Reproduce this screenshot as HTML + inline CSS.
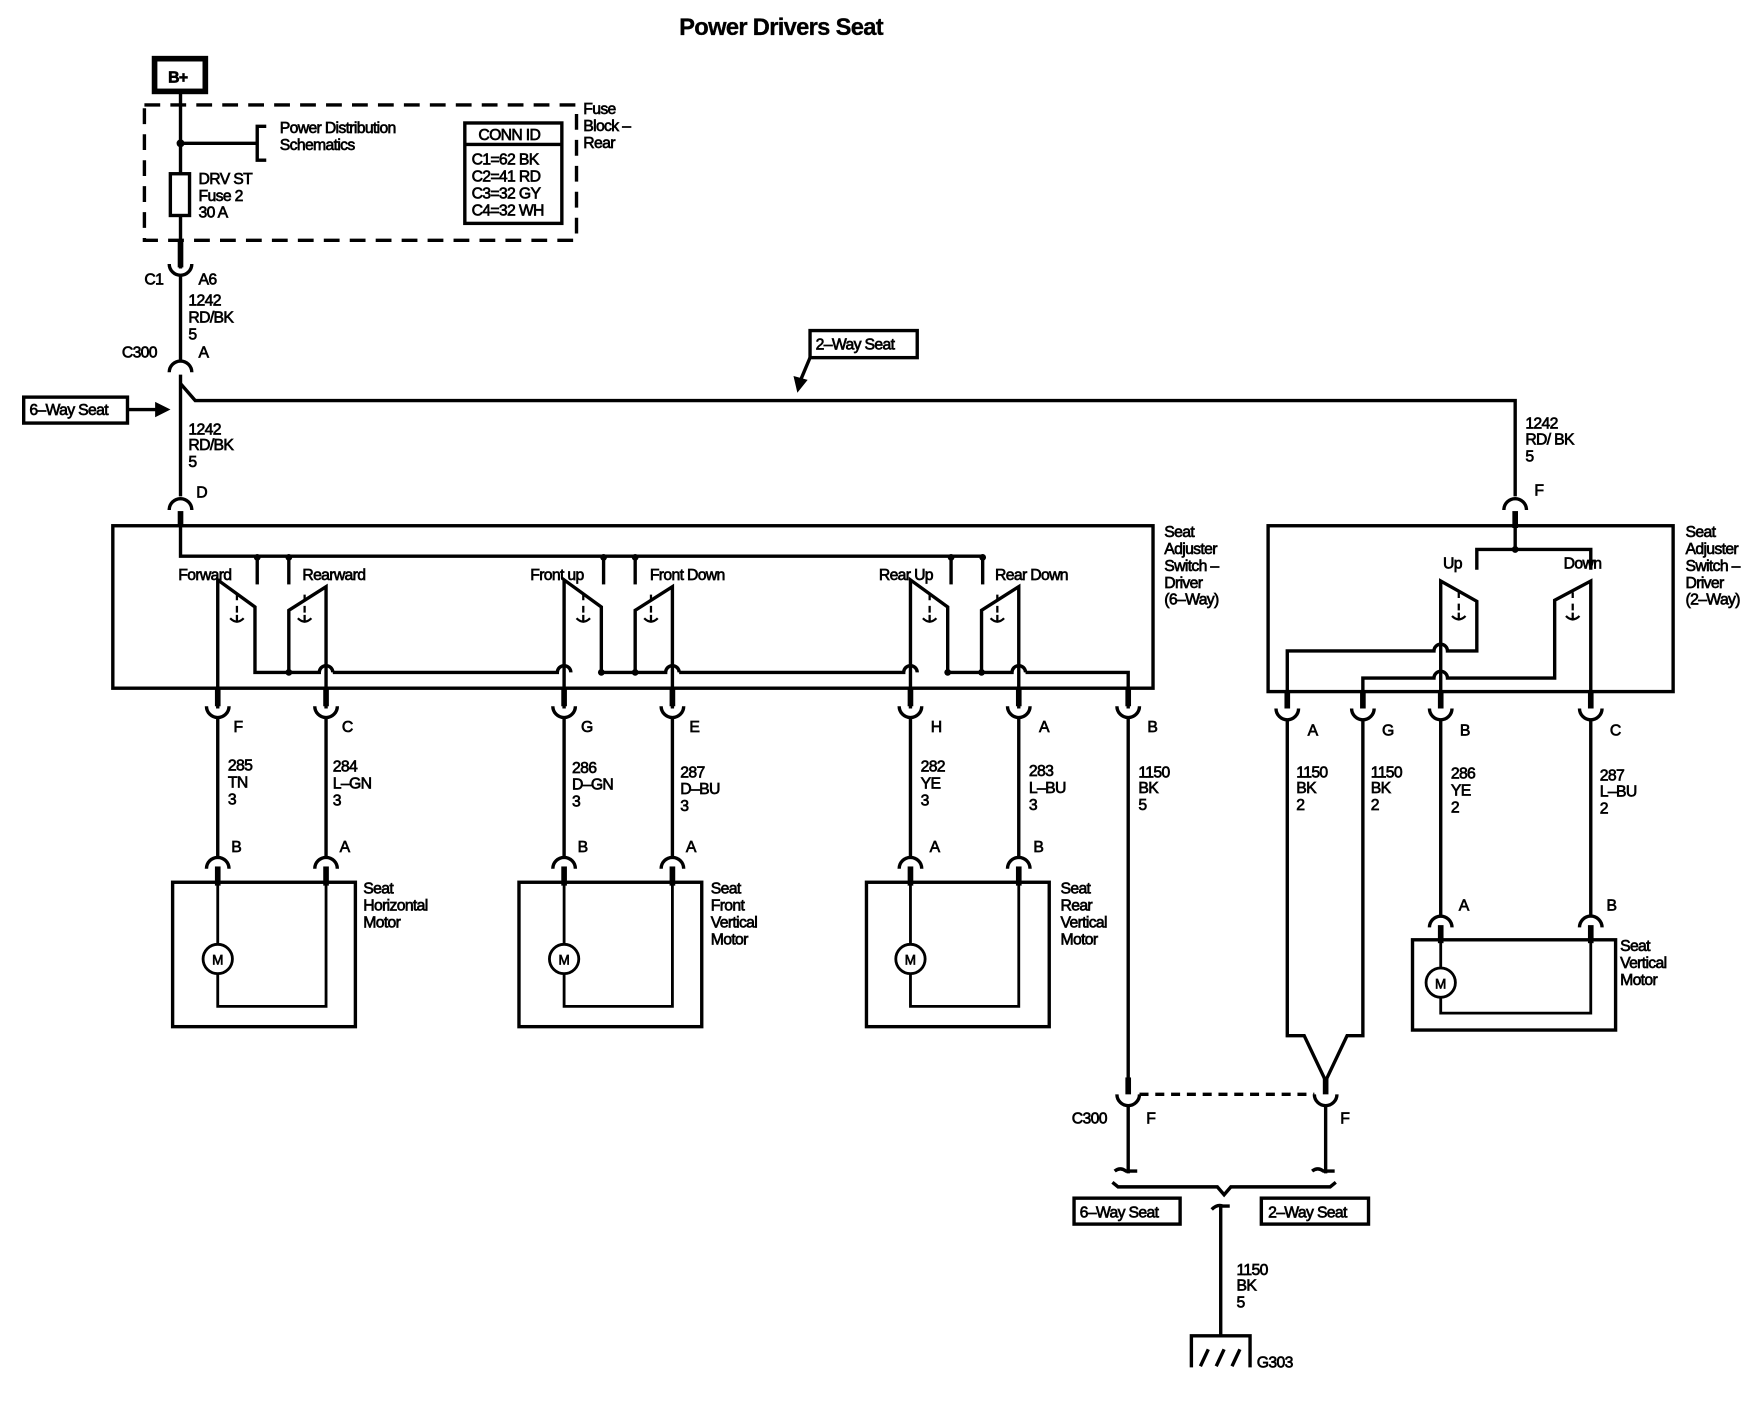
<!DOCTYPE html>
<html><head><meta charset="utf-8"><style>
html,body{margin:0;padding:0;background:#fff;}
svg{display:block}
text{font-family:"Liberation Sans",Arial,sans-serif;font-size:14px;fill:#000;letter-spacing:-0.6px;stroke:#000;stroke-width:0.6}
</style></head><body>
<svg width="1760" height="1408" viewBox="0 0 1560 1248" xmlns="http://www.w3.org/2000/svg">
<g fill="none" stroke="#000" stroke-width="3">
<rect x="137" y="52" width="45" height="29" stroke-width="5"/>
<rect x="128" y="93" width="383" height="120" stroke-dasharray="14,9"/>
<line x1="160" y1="81" x2="160" y2="238"/>
<line x1="160" y1="127" x2="228" y2="127"/>
<path d="M236 112 H228 V142 H236"/>
<circle cx="160" cy="127" r="2" fill="#000"/>
<rect x="151" y="154" width="17" height="37" fill="#fff"/>
<line x1="160" y1="213" x2="160" y2="237" stroke-width="5"/>
<rect x="412" y="109" width="86" height="89"/>
<line x1="412" y1="128" x2="498" y2="128"/>
<path d="M150 234 A10 10 0 0 0 170 234"/>
<line x1="160" y1="244" x2="160" y2="320"/>
<path d="M150 330 A10 10 0 0 1 170 330"/>
<line x1="160" y1="332" x2="160" y2="440" />
<path d="M160 340 L173 355 H1343 V440"/>
<rect x="21" y="352" width="92" height="23"/>
<line x1="113" y1="363" x2="140" y2="363"/>
<path d="M138 357 L150 363 L138 369 Z" fill="#000" stroke-width="1"/>
<rect x="718" y="293" width="95" height="24"/>
<line x1="718" y1="317" x2="710" y2="336"/>
<path d="M704 334 L707 347 L715 337 Z" fill="#000" stroke-width="1"/>
<path d="M150 452 A10 10 0 0 1 170 452"/>
<line x1="160" y1="453" x2="160" y2="466" stroke-width="5"/>
<rect x="100" y="466" width="922" height="144"/>
<path d="M160 466 V493 H872"/>
<g fill="#000" stroke="none">
<circle cx="228" cy="494" r="3"/><circle cx="256" cy="494" r="3"/>
<circle cx="535" cy="494" r="3"/><circle cx="563" cy="494" r="3"/>
<circle cx="843" cy="494" r="3"/><circle cx="871" cy="494" r="3"/>
</g>
<line x1="228" y1="493" x2="228" y2="518"/><line x1="256" y1="493" x2="256" y2="518"/>
<line x1="535" y1="493" x2="535" y2="518"/><line x1="563" y1="493" x2="563" y2="518"/>
<line x1="843" y1="493" x2="843" y2="518"/><line x1="871" y1="493" x2="871" y2="518"/>
<g>
<path d="M193 628 V514 L226 538 V596 H283 A6 6 0 0 1 295 596"/>
<path d="M289 628 V520 L256 541 V596"/>
<circle cx="256" cy="596" r="3" fill="#000" stroke="none"/>
<path d="M210 527 v5 M210 537 v6 M204 548 q6 6 12 0 M210 545 v5" stroke-width="2"/>
<path d="M270 527 v5 M270 537 v6 M264 548 q6 6 12 0 M270 545 v5" stroke-width="2"/>
</g>
<path d="M295 596 H494 A6 6 0 0 1 506 596"/>
<g transform="translate(307,0)">
<path d="M193 628 V514 L226 538 V596 H283 A6 6 0 0 1 295 596"/>
<path d="M289 628 V520 L256 541 V596"/>
<circle cx="226" cy="596" r="3" fill="#000" stroke="none"/>
<circle cx="256" cy="596" r="3" fill="#000" stroke="none"/>
<path d="M210 527 v5 M210 537 v6 M204 548 q6 6 12 0 M210 545 v5" stroke-width="2"/>
<path d="M270 527 v5 M270 537 v6 M264 548 q6 6 12 0 M270 545 v5" stroke-width="2"/>
</g>
<path d="M602 596 H801 A6 6 0 0 1 813 596"/>
<g transform="translate(614,0)">
<path d="M193 628 V514 L226 538 V596 H283 A6 6 0 0 1 295 596"/>
<path d="M289 628 V520 L256 541 V596"/>
<circle cx="226" cy="596" r="3" fill="#000" stroke="none"/>
<circle cx="256" cy="596" r="3" fill="#000" stroke="none"/>
<path d="M210 527 v5 M210 537 v6 M204 548 q6 6 12 0 M210 545 v5" stroke-width="2"/>
<path d="M270 527 v5 M270 537 v6 M264 548 q6 6 12 0 M270 545 v5" stroke-width="2"/>
</g>
<path d="M909 596 H1000 V628"/>
<g stroke-width="5">
<line x1="193" y1="610" x2="193" y2="626"/><line x1="289" y1="610" x2="289" y2="626"/>
<line x1="500" y1="610" x2="500" y2="626"/><line x1="596" y1="610" x2="596" y2="626"/>
<line x1="807" y1="610" x2="807" y2="626"/><line x1="903" y1="610" x2="903" y2="626"/>
<line x1="1000" y1="610" x2="1000" y2="626"/>
</g>
<path d="M183 626 A10 10 0 0 0 203 626 M279 626 A10 10 0 0 0 299 626 M490 626 A10 10 0 0 0 510 626 M586 626 A10 10 0 0 0 606 626 M797 626 A10 10 0 0 0 817 626 M893 626 A10 10 0 0 0 913 626 M990 626 A10 10 0 0 0 1010 626"/>
<line x1="193" y1="636" x2="193" y2="760"/><line x1="289" y1="636" x2="289" y2="760"/>
<line x1="500" y1="636" x2="500" y2="760"/><line x1="596" y1="636" x2="596" y2="760"/>
<line x1="807" y1="636" x2="807" y2="760"/><line x1="903" y1="636" x2="903" y2="760"/>
<line x1="1000" y1="636" x2="1000" y2="962"/>
<g id="mot">
<path d="M183 770 A10 10 0 0 1 203 770 M279 770 A10 10 0 0 1 299 770"/>
<line x1="193" y1="768" x2="193" y2="785" stroke-width="5"/>
<line x1="289" y1="768" x2="289" y2="785" stroke-width="5"/>
<rect x="153" y="782" width="162" height="128"/>
<path d="M193 782 V837 M193 863 V892 H289 V782" stroke-width="2.5"/>
<circle cx="193" cy="850" r="13" stroke-width="2.5"/>
</g>
<use href="#mot" x="307"/>
<path d="M797 770 A10 10 0 0 1 817 770 M893 770 A10 10 0 0 1 913 770"/>
<line x1="807" y1="768" x2="807" y2="785" stroke-width="5"/>
<line x1="903" y1="768" x2="903" y2="785" stroke-width="5"/>
<rect x="768" y="782" width="162" height="128"/>
<path d="M807 782 V837 M807 863 V892 H903 V782" stroke-width="2.5"/>
<circle cx="807" cy="850" r="13" stroke-width="2.5"/>
<path d="M1333 452 A10 10 0 0 1 1353 452"/>
<line x1="1343" y1="453" x2="1343" y2="468" stroke-width="5"/>
<rect x="1124" y="466" width="359" height="147"/>
<path d="M1343 466 V487 M1309 505 V487 H1410 V505"/>
<circle cx="1343" cy="487" r="3" fill="#000" stroke="none"/>
<path d="M1277 628 V515 L1309 533 V577 H1283 A6 6 0 0 0 1271 577 H1141 V628"/>
<path d="M1410 628 V515 L1378 532 V601 H1283 A6 6 0 0 0 1271 601 H1208 V628"/>
<path d="M1293 525 v5 M1293 535 v6 M1287 546 q6 6 12 0 M1293 543 v5" stroke-width="2"/>
<path d="M1394 525 v5 M1394 535 v6 M1388 546 q6 6 12 0 M1394 543 v5" stroke-width="2"/>
<g stroke-width="5">
<line x1="1141" y1="613" x2="1141" y2="628"/><line x1="1208" y1="613" x2="1208" y2="628"/>
<line x1="1277" y1="613" x2="1277" y2="628"/><line x1="1410" y1="613" x2="1410" y2="628"/>
</g>
<path d="M1131 628 A10 10 0 0 0 1151 628 M1198 628 A10 10 0 0 0 1218 628 M1267 628 A10 10 0 0 0 1287 628 M1400 628 A10 10 0 0 0 1420 628"/>
<path d="M1141 638 V918 H1156 L1175 958 L1194 918 H1208 V638"/>
<line x1="1277" y1="638" x2="1277" y2="812"/><line x1="1410" y1="638" x2="1410" y2="812"/>
<path d="M1267 822 A10 10 0 0 1 1287 822 M1400 822 A10 10 0 0 1 1420 822"/>
<line x1="1277" y1="820" x2="1277" y2="836" stroke-width="5"/>
<line x1="1410" y1="820" x2="1410" y2="836" stroke-width="5"/>
<rect x="1252" y="833" width="180" height="80"/>
<path d="M1277 833 V858 M1277 884 V898 H1410 V833" stroke-width="2.5"/>
<circle cx="1277" cy="871" r="13" stroke-width="2.5"/>
<line x1="1175" y1="955" x2="1175" y2="970" stroke-width="5"/>
<line x1="1000" y1="955" x2="1000" y2="970" stroke-width="5"/>
<path d="M990 970 A10 10 0 0 0 1010 970 M1165 970 A10 10 0 0 0 1185 970"/>
<line x1="1010" y1="970" x2="1165" y2="970" stroke-dasharray="8,6"/>
<path d="M1000 980 V1040 M988 1038 q5 -4 10 0 H1008 M1175 980 V1040 M1163 1038 q5 -4 10 0 H1183"/>
<path d="M986 1048 L991 1052 H1079 L1085 1059 L1091 1052 H1179 L1184 1048"/>
<rect x="952" y="1062" width="94" height="23"/>
<rect x="1118" y="1062" width="95" height="23"/>
<path d="M1074 1072 q5 -5 10 -3 H1090 M1082 1070 V1184"/>
<path d="M1056 1212 V1184 H1108 V1212"/>
<path d="M1064 1211 L1071 1196 M1078 1211 L1085 1196 M1092 1211 L1099 1196" stroke-width="3"/>
</g>
<text x="602" y="31" style="font-size:21px;font-weight:bold;stroke-width:0.3">Power Drivers Seat</text>
<text x="149" y="73" style="font-weight:bold">B+</text>
<text x="248" y="118">Power Distribution</text><text x="248" y="133">Schematics</text>
<text x="176" y="163">DRV ST</text><text x="176" y="178">Fuse 2</text><text x="176" y="193">30 A</text>
<text x="424" y="124">CONN ID</text>
<text x="418" y="146">C1=62 BK</text><text x="418" y="161">C2=41 RD</text><text x="418" y="176">C3=32 GY</text><text x="418" y="191">C4=32 WH</text>
<text x="517" y="101">Fuse</text><text x="517" y="116">Block –</text><text x="517" y="131">Rear</text>
<text x="128" y="252">C1</text><text x="176" y="252">A6</text>
<text x="167" y="271">1242</text><text x="167" y="286">RD/BK</text><text x="167" y="301">5</text>
<text x="108" y="317">C300</text><text x="176" y="317">A</text>
<text x="26" y="368">6–Way Seat</text>
<text x="723" y="310">2–Way Seat</text>
<text x="167" y="385">1242</text><text x="167" y="399">RD/BK</text><text x="167" y="414">5</text>
<text x="174" y="441">D</text>
<text x="1352" y="380">1242</text><text x="1352" y="394">RD/ BK</text><text x="1352" y="409">5</text>
<text x="1360" y="439">F</text>
<text x="1032" y="476">Seat</text><text x="1032" y="491">Adjuster</text><text x="1032" y="506">Switch –</text><text x="1032" y="521">Driver</text><text x="1032" y="536">(6–Way)</text>
<text x="1494" y="476">Seat</text><text x="1494" y="491">Adjuster</text><text x="1494" y="506">Switch –</text><text x="1494" y="521">Driver</text><text x="1494" y="536">(2–Way)</text>
<text x="158" y="514">Forward</text><text x="268" y="514">Rearward</text>
<text x="470" y="514">Front up</text><text x="576" y="514">Front Down</text>
<text x="779" y="514">Rear Up</text><text x="882" y="514">Rear Down</text>
<text x="1279" y="504">Up</text><text x="1386" y="504">Down</text>
<text x="207" y="649">F</text><text x="303" y="649">C</text><text x="515" y="649">G</text><text x="611" y="649">E</text>
<text x="825" y="649">H</text><text x="921" y="649">A</text><text x="1017" y="649">B</text>
<text x="1159" y="652">A</text><text x="1225" y="652">G</text><text x="1294" y="652">B</text><text x="1427" y="652">C</text>
<text x="202" y="683">285</text><text x="202" y="698">TN</text><text x="202" y="713">3</text>
<text x="295" y="684">284</text><text x="295" y="699">L–GN</text><text x="295" y="714">3</text>
<text x="507" y="685">286</text><text x="507" y="700">D–GN</text><text x="507" y="715">3</text>
<text x="603" y="689">287</text><text x="603" y="704">D–BU</text><text x="603" y="719">3</text>
<text x="816" y="684">282</text><text x="816" y="699">YE</text><text x="816" y="714">3</text>
<text x="912" y="688">283</text><text x="912" y="703">L–BU</text><text x="912" y="718">3</text>
<text x="1009" y="689">1150</text><text x="1009" y="703">BK</text><text x="1009" y="718">5</text>
<text x="1149" y="689">1150</text><text x="1149" y="703">BK</text><text x="1149" y="718">2</text>
<text x="1215" y="689">1150</text><text x="1215" y="703">BK</text><text x="1215" y="718">2</text>
<text x="1286" y="690">286</text><text x="1286" y="705">YE</text><text x="1286" y="720">2</text>
<text x="1418" y="692">287</text><text x="1418" y="706">L–BU</text><text x="1418" y="721">2</text>
<text x="205" y="755">B</text><text x="301" y="755">A</text><text x="512" y="755">B</text><text x="608" y="755">A</text>
<text x="824" y="755">A</text><text x="916" y="755">B</text>
<text x="1293" y="807">A</text><text x="1424" y="807">B</text>
<text x="322" y="792">Seat</text><text x="322" y="807">Horizontal</text><text x="322" y="822">Motor</text>
<text x="630" y="792">Seat</text><text x="630" y="807">Front</text><text x="630" y="822">Vertical</text><text x="630" y="837">Motor</text>
<text x="940" y="792">Seat</text><text x="940" y="807">Rear</text><text x="940" y="822">Vertical</text><text x="940" y="837">Motor</text>
<text x="1436" y="843">Seat</text><text x="1436" y="858">Vertical</text><text x="1436" y="873">Motor</text>
<text x="188" y="855" style="font-size:12px">M</text><text x="495" y="855" style="font-size:12px">M</text>
<text x="802" y="855" style="font-size:12px">M</text><text x="1272" y="876" style="font-size:12px">M</text>
<text x="950" y="996">C300</text><text x="1016" y="996">F</text><text x="1188" y="996">F</text>
<text x="957" y="1079">6–Way Seat</text><text x="1124" y="1079">2–Way Seat</text>
<text x="1096" y="1130">1150</text><text x="1096" y="1144">BK</text><text x="1096" y="1159">5</text>
<text x="1114" y="1212">G303</text>
</svg>
</body></html>
